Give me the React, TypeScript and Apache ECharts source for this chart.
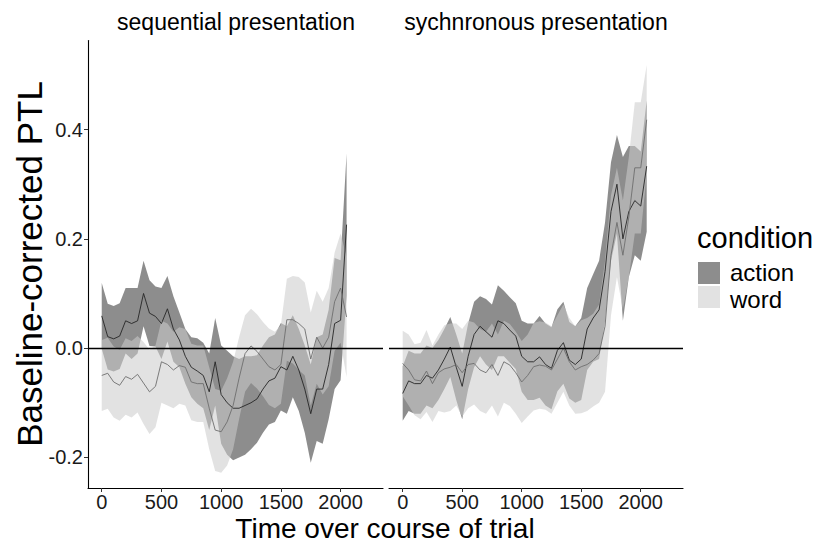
import { useEffect, useRef } from "react";
import * as echarts from "echarts";

// Time bins (ms) shared by every trace
const timeMs = [
  0, 50, 100, 150, 200, 250, 300, 350, 400, 450, 500, 550, 600, 650, 700, 750, 800, 850, 900, 950,
  1000, 1050, 1100, 1150, 1200, 1250, 1300, 1350, 1400, 1450, 1500, 1550, 1600, 1650, 1700, 1750,
  1800, 1850, 1900, 1950, 2000, 2050,
];

// Sequential presentation
const seqActionMean = [
  0.059, 0.021, 0.017, 0.022, 0.05, 0.045, 0.05, 0.1, 0.064, 0.058, 0.045, 0.072, 0.035, 0.015,
  -0.015, -0.035, -0.042, -0.05, -0.08, -0.025, -0.085, -0.1, -0.11, -0.11, -0.105, -0.1, -0.093,
  -0.075, -0.06, -0.055, -0.034, -0.04, -0.015, -0.04, -0.075, -0.12, -0.075, -0.075, -0.03, 0.045,
  0.051, 0.226,
];
const seqActionHalf = [
  0.06, 0.06, 0.06, 0.06, 0.06, 0.065, 0.06, 0.06, 0.06, 0.055, 0.065, 0.06, 0.06, 0.05, 0.05,
  0.055, 0.06, 0.06, 0.07, 0.08, 0.09, 0.095, 0.095, 0.09, 0.09, 0.085, 0.08, 0.08, 0.08, 0.08, 0.08,
  0.08, 0.075, 0.075, 0.08, 0.09, 0.095, 0.1, 0.1, 0.12, 0.11, 0.13,
];
const seqWordMean = [
  -0.05, -0.046, -0.062, -0.068, -0.052, -0.057, -0.048, -0.064, -0.08, -0.07, -0.025, -0.03, -0.04,
  -0.032, -0.035, -0.062, -0.065, -0.065, -0.11, -0.15, -0.153, -0.135, -0.105, -0.055, -0.01, 0.004,
  -0.006, -0.02, -0.034, -0.04, -0.03, 0.052, 0.052, 0.045, 0.035, -0.02, 0.02, 0.0, 0.02, 0.085,
  0.11, 0.057,
];
const seqWordHalf = [
  0.065, 0.065, 0.065, 0.065, 0.07, 0.07, 0.07, 0.075, 0.077, 0.075, 0.075, 0.075, 0.07, 0.07, 0.07,
  0.07, 0.07, 0.07, 0.075, 0.075, 0.075, 0.08, 0.08, 0.075, 0.07, 0.068, 0.068, 0.068, 0.07, 0.07,
  0.072, 0.075, 0.08, 0.085, 0.085, 0.085, 0.085, 0.085, 0.09, 0.09, 0.1, 0.11,
];

// Synchronous presentation
const synActionMean = [
  -0.083, -0.06, -0.065, -0.065, -0.05, -0.055, -0.04, -0.02, 0.002, -0.035, -0.07, -0.015, 0.025,
  0.04, 0.03, 0.02, 0.05, 0.045, 0.033, 0.022, -0.015, -0.025, -0.025, -0.016, -0.03, -0.037, -0.004,
  0.01, -0.022, -0.03, -0.02, 0.035, 0.055, 0.07, 0.14, 0.25, 0.3, 0.2, 0.25, 0.27, 0.26, 0.333,
];
const synActionHalf = [
  0.05, 0.055, 0.055, 0.055, 0.055, 0.055, 0.055, 0.055, 0.055, 0.06, 0.06, 0.06, 0.06, 0.055, 0.06,
  0.06, 0.065, 0.06, 0.06, 0.06, 0.065, 0.07, 0.07, 0.075, 0.075, 0.075, 0.075, 0.075, 0.07, 0.07,
  0.075, 0.075, 0.08, 0.09, 0.09, 0.09, 0.09, 0.15, 0.12, 0.1, 0.1, 0.12,
];
const synWordMean = [
  -0.028, -0.04, -0.058, -0.06, -0.042, -0.065, -0.045, -0.038, -0.035, -0.03, -0.045, -0.03, -0.028,
  -0.04, -0.045, -0.03, -0.05, -0.025, -0.031, -0.045, -0.062, -0.05, -0.034, -0.031, -0.033, -0.04,
  -0.02, 0.0, -0.025, -0.04, -0.034, -0.03, -0.022, -0.01, 0.04, 0.17, 0.23, 0.17, 0.24, 0.33, 0.33,
  0.418,
];
const synWordHalf = [
  0.06, 0.065, 0.065, 0.07, 0.075, 0.07, 0.07, 0.08, 0.08, 0.075, 0.08, 0.08, 0.075, 0.075, 0.075,
  0.075, 0.075, 0.075, 0.075, 0.075, 0.075, 0.075, 0.08, 0.08, 0.08, 0.08, 0.08, 0.08, 0.08, 0.08,
  0.085, 0.085, 0.085, 0.09, 0.12, 0.11, 0.1, 0.1, 0.11, 0.12, 0.12, 0.1,
];

const xTicks = [0, 500, 1000, 1500, 2000];
const yTicks = [-0.2, 0, 0.2, 0.4];
const panelTitles = ["sequential presentation", "sychnronous presentation"];
const conditionNames = ["action", "word"];

const FONT = '"Liberation Sans", Arial, Helvetica, sans-serif';
const ACTION_FILL = "rgba(51,51,51,0.56)";
const WORD_FILL = "rgba(204,204,204,0.56)";
const ACTION_LINE = "#262626";
const WORD_LINE = "#6e6e6e";

const X_MIN = -115;
const X_MAX = 2355;
const Y_MIN = -0.256;
const Y_MAX = 0.563;

type Row = [number, number, number];

function bandRows(mean: number[], half: number[]): Row[] {
  return timeMs.map((t, i) => [t, mean[i] - half[i], mean[i] + half[i]]);
}

function bandSeries(name: string, panel: number, rows: Row[], fill: string, z: number) {
  return {
    type: "custom",
    name,
    xAxisIndex: panel,
    yAxisIndex: panel,
    z,
    silent: true,
    data: rows,
    encode: { x: 0, y: [1, 2] },
    renderItem: (params: any, api: any) => {
      if (params.dataIndex !== 0) return null;
      const upper = rows.map((r) => api.coord([r[0], r[2]]));
      const lower = rows.map((r) => api.coord([r[0], r[1]])).reverse();
      return {
        type: "polygon",
        shape: { points: upper.concat(lower) },
        style: { fill, stroke: "none" },
      };
    },
  };
}

function meanSeries(name: string, panel: number, mean: number[], color: string, z: number, zeroLine: boolean) {
  const s: any = {
    type: "line",
    name,
    xAxisIndex: panel,
    yAxisIndex: panel,
    z,
    silent: true,
    showSymbol: false,
    symbol: "none",
    data: timeMs.map((t, i) => [t, mean[i]]),
    lineStyle: { color, width: 0.9 },
  };
  if (zeroLine) {
    s.markLine = {
      silent: true,
      symbol: ["none", "none"],
      label: { show: false },
      lineStyle: { color: "#000", width: 1.3, type: "solid" },
      data: [{ yAxis: 0 }],
    };
  }
  return s;
}

export default function App() {
  const ref = useRef<HTMLDivElement>(null);

  useEffect(() => {
    if (!ref.current) return;
    const chart = echarts.init(ref.current, undefined, { renderer: "svg" });

    const panels = [
      { action: [seqActionMean, seqActionHalf], word: [seqWordMean, seqWordHalf] },
      { action: [synActionMean, synActionHalf], word: [synWordMean, synWordHalf] },
    ];

    const series: any[] = [];
    panels.forEach((p, i) => {
      series.push(bandSeries("action", i, bandRows(p.action[0], p.action[1]), ACTION_FILL, 1));
      series.push(bandSeries("word", i, bandRows(p.word[0], p.word[1]), WORD_FILL, 2));
      series.push(meanSeries("action mean", i, p.action[0], ACTION_LINE, 3, false));
      series.push(meanSeries("word mean", i, p.word[0], WORD_LINE, 4, true));
    });

    const grids = [
      { left: 88, top: 40.5, width: 295, height: 447.5 },
      { left: 389, top: 40.5, width: 294, height: 447.5 },
    ].map((g) => ({ ...g, containLabel: false, outerBoundsMode: "none" }));

    const xAxes = [0, 1].map((i) => ({
      type: "value",
      gridIndex: i,
      min: X_MIN,
      max: X_MAX,
      axisLine: { show: true, onZero: false, lineStyle: { color: "#000", width: 1.1 } },
      axisTick: { show: true, length: 4, customValues: xTicks, lineStyle: { color: "#333" } },
      axisLabel: {
        customValues: xTicks,
        formatter: (v: number) => String(v),
        fontSize: 20,
        color: "#1a1a1a",
        margin: 4,
        fontFamily: FONT,
      },
      splitLine: { show: false },
    }));

    const yAxes = [0, 1].map((i) => ({
      type: "value",
      gridIndex: i,
      min: Y_MIN,
      max: Y_MAX,
      axisLine: { show: i === 0, onZero: false, lineStyle: { color: "#000", width: 1.1 } },
      axisTick: { show: i === 0, length: 4, customValues: yTicks, lineStyle: { color: "#333" } },
      axisLabel: {
        show: i === 0,
        customValues: yTicks,
        formatter: (v: number) => v.toFixed(1),
        fontSize: 20,
        color: "#1a1a1a",
        margin: 5,
        fontFamily: FONT,
      },
      splitLine: { show: false },
    }));

    const textEl = (x: number, y: number, text: string, size: number, align: string, extra: any = {}) => ({
      type: "text",
      x,
      y,
      ...extra,
      style: { text, font: `${size}px ${FONT}`, fill: "#000", align, verticalAlign: "middle" },
    });

    const graphic: any[] = [
      textEl(236, 22, panelTitles[0], 23, "center"),
      textEl(536, 22, panelTitles[1], 23, "center"),
      textEl(385, 528, "Time over course of trial", 28, "center"),
      textEl(29, 264, "Baseline-corrected PTL", 35, "center", { rotation: Math.PI / 2 }),
      textEl(697, 238, "condition", 29, "left"),
      { type: "rect", shape: { x: 698, y: 262, width: 22, height: 22 }, style: { fill: ACTION_FILL } },
      { type: "rect", shape: { x: 698, y: 286, width: 22, height: 22 }, style: { fill: WORD_FILL } },
      textEl(730, 272, conditionNames[0], 24, "left"),
      textEl(730, 299, conditionNames[1], 24, "left"),
    ];

    chart.setOption({
      animation: false,
      backgroundColor: "#fff",
      textStyle: { fontFamily: FONT },
      grid: grids,
      xAxis: xAxes,
      yAxis: yAxes,
      series,
      graphic,
    });

    return () => chart.dispose();
  }, []);

  return (
    <div
      ref={ref}
      style={{ position: "fixed", left: 0, top: 0, width: 816, height: 542, background: "#fff" }}
    />
  );
}
